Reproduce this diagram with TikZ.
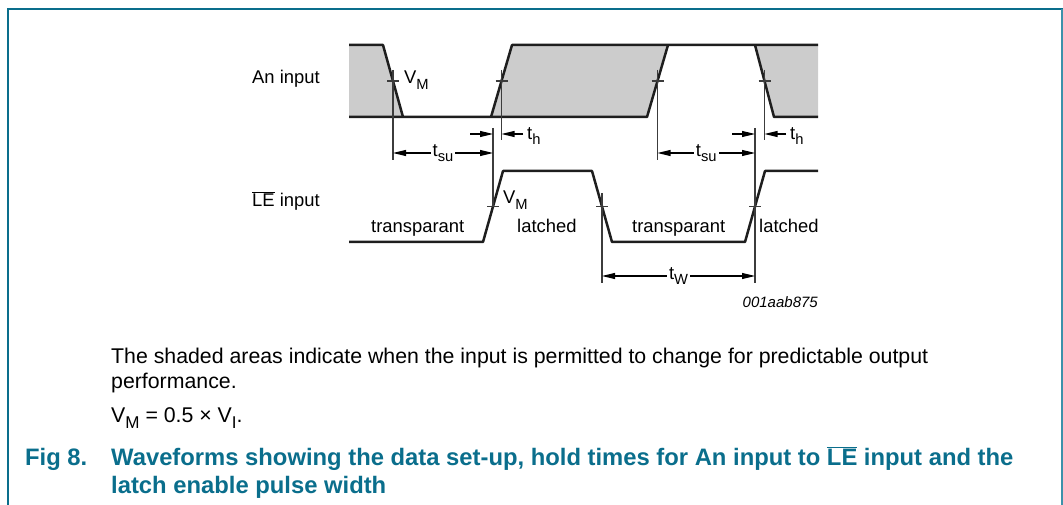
\documentclass[tikz,border=0pt]{standalone}
\usepackage{fontspec}
\usepackage{graphicx}
\setmainfont{Liberation Sans}
\usetikzlibrary{arrows.meta}
\definecolor{nxp}{RGB}{10,110,140}
\definecolor{nxpl}{RGB}{60,145,170}
\definecolor{wavec}{RGB}{30,30,30}
\definecolor{shadec}{RGB}{204,204,204}
\definecolor{guide}{RGB}{60,60,60}
\newcommand{\mysub}[1]{\raisebox{-0.3em}{\scalebox{0.8}{#1}}}
\newcommand{\lbl}{\fontsize{18.4}{22}\selectfont}
\newcommand{\body}{\fontsize{21.3}{25}\selectfont}
\newcommand{\ttl}{\fontsize{23.8}{28}\selectfont\bfseries}
\begin{document}
\begin{tikzpicture}[x=1pt,y=-1pt,
  >={Triangle[length=13pt,width=6pt]},
  wave/.style={line width=2.5pt, draw=wavec, line join=round},
  shade/.style={fill=shadec},
  tick/.style={line width=1.1pt, draw=guide},
  guideline/.style={line width=1.1pt, draw=guide},
  dim/.style={line width=1.1pt, draw=black},
  txt/.style={inner sep=0pt, anchor=base west, font=\lbl},
  dimlbl/.style={inner sep=2pt, fill=white, font=\lbl},
  bodytxt/.style={inner sep=0pt, anchor=base west, font=\body},
  ttltxt/.style={inner sep=0pt, anchor=base west, font=\ttl, text=nxp}]
\useasboundingbox (0,0) rectangle (1063,505);
% frame
\draw[nxp, line width=2pt] (8,505) -- (8,9.5) -- (1063,9.5);
\draw[nxpl, line width=2pt] (1061.5,9.5) -- (1061.5,505);

% An input shaded regions
\fill[shade] (349,45) -- (383,45) -- (403,117) -- (349,117) -- cycle;
\fill[shade] (491,117) -- (512,45) -- (668,45) -- (647,117) -- cycle;
\fill[shade] (755,45) -- (818,45) -- (818,117) -- (774,117) -- cycle;
\draw[wave] (349,45) -- (383,45) -- (403,117);
\draw[wave] (349,117) -- (647,117) -- (668,45);
\draw[wave] (491,117) -- (512,45) -- (818,45);
\draw[wave] (755,45) -- (774,117) -- (818,117);

% LE input
\draw[wave] (349,242) -- (483,242) -- (503,171) -- (592,171) -- (612,242) -- (745,242) -- (765,171) -- (818,171);

% crossing points
\coordinate (a1) at (393,81);
\coordinate (a2) at (501.5,81);
\coordinate (a3) at (657.5,81);
\coordinate (a4) at (764.5,81);
\coordinate (l1) at (493,206.5);
\coordinate (l2) at (602,206.5);
\coordinate (l3) at (755,206.5);

% ticks
\foreach \p in {a1,a2,a3,a4,l1,l2,l3}
  \draw[tick] ([xshift=-6pt]\p) -- ([xshift=6pt]\p);

% guide lines
\coordinate (a1b) at (393,160);
\coordinate (a2b) at (501.5,140);
\coordinate (a3b) at (657.5,160);
\coordinate (a4b) at (764.5,140);
\coordinate (l1t) at (493,128);
\coordinate (l3t) at (755,128);
\coordinate (l2b) at (602,283);
\coordinate (l3b) at (755,283);
\draw[guideline] (393,70) -- (a1b);
\draw[guideline] (501.5,70) -- (a2b);
\draw[guideline] (657.5,70) -- (a3b);
\draw[guideline] (764.5,70) -- (a4b);
\draw[guideline] (l1t) -- (l1);
\draw[guideline] (l3t) -- (l3b);
\draw[guideline] (602,193) -- (l2b);

% setup times
\coordinate (s1l) at (393,153);
\coordinate (s1r) at (493,153);
\coordinate (s2l) at (657.5,153);
\coordinate (s2r) at (755,153);
\draw[dim,<->] (s1l) -- (s1r) node[midway, dimlbl] (tsu1) {t\mysub{su}};
\draw[dim,<->] (s2l) -- (s2r) node[midway, dimlbl] (tsu2) {t\mysub{su}};

% hold times
\coordinate (h1a) at (470,134);
\coordinate (h1b) at (493,134);
\coordinate (h1c) at (523,134);
\coordinate (h1d) at (501.5,134);
\draw[dim,->] (h1a) -- (h1b);
\draw[dim,->] (h1c) -- (h1d);
\node[txt, anchor=west] (th1) at (527,136) {t\mysub{h}};
\coordinate (h2a) at (732,134);
\coordinate (h2b) at (755,134);
\coordinate (h2c) at (786,134);
\coordinate (h2d) at (764.5,134);
\draw[dim,->] (h2a) -- (h2b);
\draw[dim,->] (h2c) -- (h2d);
\node[txt, anchor=west] (th2) at (790,136) {t\mysub{h}};

% pulse width
\coordinate (w1) at (602,276);
\coordinate (w2) at (755,276);
\draw[dim,<->] (w1) -- (w2) node[midway, dimlbl] (tw) {t\mysub{W}};

% labels
\node[txt] (anin) at (252,83.3) {An input};
\node[txt] (lein) at (252,206.7) {$\overline{\mbox{LE}}$ input};
\node[txt] (vm1) at (404,84) {V\mysub{M}};
\node[txt] (vm2) at (503,204) {V\mysub{M}};
\node[txt] (tr1) at (371,232.7) {transparant};
\node[txt] (la1) at (517,232.7) {latched};
\node[txt] (tr2) at (632,232.7) {transparant};
\node[txt] (la2) at (759,232.7) {latched};
\node[inner sep=0pt, anchor=base east, font=\fontsize{15}{18}\selectfont\itshape] (code) at (818,307) {001aab875};

% text below
\node[bodytxt] (p1) at (111,363) {The shaded areas indicate when the input is permitted to change for predictable output};
\node[bodytxt] (p2) at (111,388) {performance.};
\node[bodytxt] (p3) at (111,422) {V\mysub{M} = 0.5 × V\mysub{I}.};
\node[ttltxt] (fig) at (25,465) {Fig 8.};
\node[ttltxt] (t1) at (111,465) {Waveforms showing the data set-up, hold times for An input to $\overline{\mbox{LE}}$ input and the};
\node[ttltxt] (t2) at (111,493) {latch enable pulse width};
\end{tikzpicture}
\end{document}
